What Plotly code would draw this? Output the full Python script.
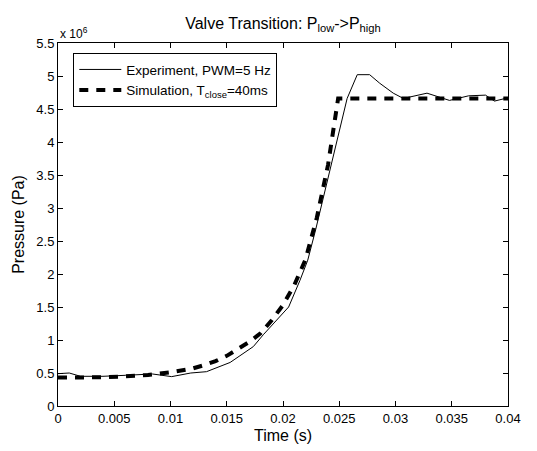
import plotly.graph_objects as go

# Experiment (PWM=5 Hz): time [s], pressure [x1e6 Pa]
exp_t = [0.0, 0.001, 0.002, 0.004, 0.006, 0.0084, 0.0101, 0.0118, 0.0132, 0.0153, 0.01736,
         0.01825, 0.0205, 0.0215, 0.0222, 0.0229, 0.0257, 0.0264, 0.0266, 0.0277, 0.0286,
         0.0298, 0.0307, 0.0328, 0.0348, 0.0365, 0.0380, 0.0388, 0.04]
exp_p = [0.49, 0.50, 0.45, 0.45, 0.465, 0.485, 0.445, 0.50, 0.52, 0.66, 0.90,
         1.08, 1.50, 1.90, 2.21, 2.67, 4.66, 4.94, 5.02, 5.02, 4.89,
         4.74, 4.66, 4.74, 4.63, 4.70, 4.71, 4.62, 4.67]

# Simulation (T_close=40ms)
sim_t = [0.0, 0.002, 0.004, 0.006, 0.008, 0.010, 0.012, 0.013, 0.014, 0.015, 0.016,
         0.017, 0.018, 0.019, 0.020, 0.021, 0.022, 0.023, 0.024, 0.0249, 0.04]
sim_p = [0.43, 0.43, 0.435, 0.45, 0.47, 0.51, 0.57, 0.62, 0.68, 0.76, 0.86,
         0.97, 1.10, 1.30, 1.53, 1.83, 2.22, 2.85, 3.65, 4.66, 4.66]

x_ticks = [0, 0.005, 0.01, 0.015, 0.02, 0.025, 0.03, 0.035, 0.04]
y_ticks = [0, 0.5, 1, 1.5, 2, 2.5, 3, 3.5, 4, 4.5, 5, 5.5]

FONT = "Liberation Sans, Arial, Helvetica, sans-serif"

fig = go.Figure()
fig.add_trace(go.Scatter(x=exp_t, y=exp_p, mode="lines",
                         name="Experiment, PWM=5 Hz",
                         line=dict(color="black", width=1)))
fig.add_trace(go.Scatter(x=sim_t, y=sim_p, mode="lines",
                         name="Simulation, T<sub>close</sub>=40ms",
                         line=dict(color="black", width=4, dash="9px,8px")))

axis_common = dict(showline=True, linecolor="black", linewidth=1, mirror="ticks",
                   ticks="inside", ticklen=5, tickcolor="black", showgrid=False,
                   zeroline=False, automargin=False,
                   tickfont=dict(size=13, color="black", family=FONT))

fig.update_xaxes(range=[0, 0.04], tickvals=x_ticks,
                 ticktext=[("%g" % v) for v in x_ticks],
                 title=dict(text="Time (s)", font=dict(size=16, color="black", family=FONT), standoff=5),
                 **axis_common)
fig.update_yaxes(range=[0, 5.5], tickvals=y_ticks,
                 ticktext=[("%g" % v) for v in y_ticks],
                 title=dict(text="Pressure (Pa)", font=dict(size=16, color="black", family=FONT), standoff=7),
                 **axis_common)

fig.update_layout(
    width=537, height=451,
    margin=dict(l=58, r=29, t=43, b=45, autoexpand=False),
    paper_bgcolor="white", plot_bgcolor="white",
    font=dict(family=FONT, color="black"),
    title=dict(text="Valve Transition: P<sub>low</sub>->P<sub>high</sub>",
               x=0.5, xref="paper", xanchor="center",
               y=1 - 29 / 451, yref="container", yanchor="bottom",
               font=dict(size=16, color="black", family=FONT)),
    showlegend=True,
    legend=dict(x=0.034, y=0.972, xanchor="left", yanchor="top",
                bgcolor="white", bordercolor="black", borderwidth=1,
                itemwidth=42,
                font=dict(size=13.5, color="black", family=FONT),
                tracegroupgap=0),
    annotations=[dict(text="x 10<sup>6</sup>", xref="paper", yref="paper",
                      x=0, y=1, xanchor="left", yanchor="bottom", yshift=0,
                      showarrow=False, font=dict(size=12, color="black", family=FONT))],
)

fig.write_html("out.html", config={"displayModeBar": False},
               post_script="document.body.style.margin='0';document.body.style.padding='0';")
